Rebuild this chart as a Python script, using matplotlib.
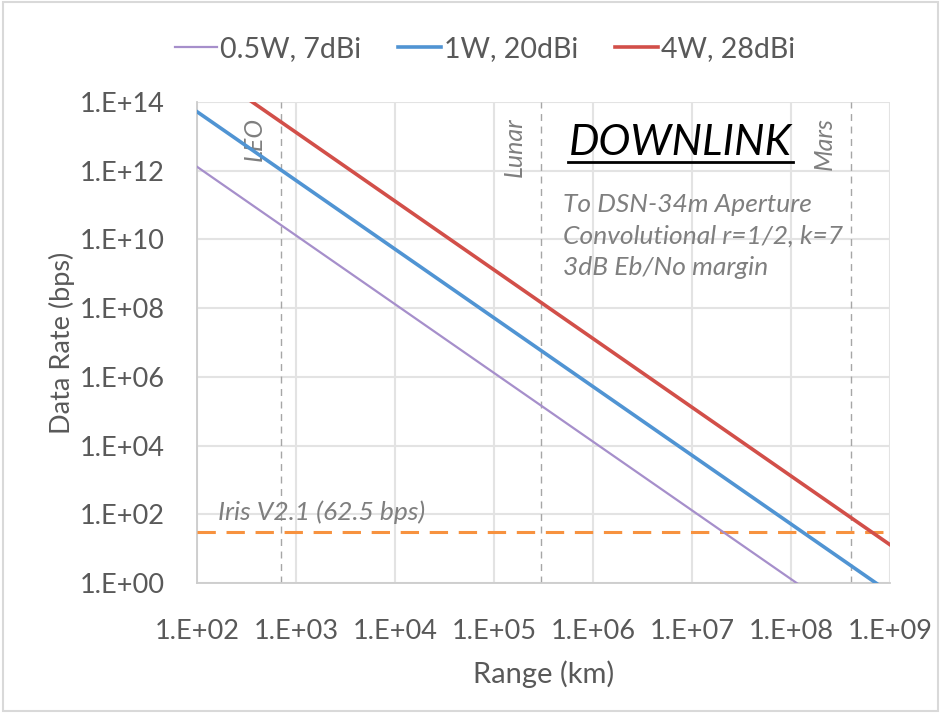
import matplotlib
matplotlib.use("Agg")
import matplotlib.pyplot as plt
from matplotlib.patches import Rectangle
from matplotlib.ticker import FixedLocator, NullLocator

plt.rcParams["font.family"] = ["Lato", "DejaVu Sans"]

# (decade points)
range_km = [1e2, 1e3, 1e4, 1e5, 1e6, 1e7, 1e8, 1e9]
rate_05w = [1.3e12, 1.3e10, 1.3e8, 1.3e6, 1.3e4, 1.3e2, 1.3e0, 1.3e-2]
rate_1w = [5.2e13, 5.2e11, 5.2e9, 5.2e7, 5.2e5, 5.2e3, 5.2e1, 5.2e-1]
rate_4w = [1.3e15, 1.3e13, 1.3e11, 1.3e9, 1.3e7, 1.3e5, 1.3e3, 1.3e1]
series_labels = ["0.5W, 7dBi", "1W, 20dBi", "4W, 28dBi"]

iris_rate = 31.25
iris_label = "Iris V2.1 (62.5 bps)"

marker_names = ["LEO", "Lunar", "Mars"]
marker_ranges = [7e2, 3e5, 4e8]

x_ticks = [1e2, 1e3, 1e4, 1e5, 1e6, 1e7, 1e8, 1e9]
x_ticklabels = ["1.E+02", "1.E+03", "1.E+04", "1.E+05", "1.E+06", "1.E+07", "1.E+08", "1.E+09"]
y_ticks = [1e0, 1e2, 1e4, 1e6, 1e8, 1e10, 1e12, 1e14]
y_ticklabels = ["1.E+00", "1.E+02", "1.E+04", "1.E+06", "1.E+08", "1.E+10", "1.E+12", "1.E+14"]

grey_txt = "#595959"
note_grey = "#7f7f7f"

fig = plt.figure(figsize=(9.41, 7.13), dpi=100)
ax = fig.add_axes([0.2094, 0.1823, 0.7364, 0.6747])

ax.plot(range_km, rate_05w, color="#a68fcb", lw=1.6, label=series_labels[0], zorder=4)
ax.plot(range_km, rate_1w, color="#5094d3", lw=2.6, label=series_labels[1], zorder=4)
ax.plot(range_km, rate_4w, color="#d24f49", lw=2.6, label=series_labels[2], zorder=4)

ax.axhline(iris_rate, color="#f7923f", lw=2.2, dashes=(6, 3.5), zorder=3)

for r in marker_ranges:
    ax.axvline(r, color="#a6a6a6", lw=1.0, dashes=(5, 4), zorder=2)

ax.set_xscale("log")
ax.set_yscale("log")
ax.set_xlim(1e2, 1e9)
ax.set_ylim(1e0, 1e14)

ax.xaxis.set_major_locator(FixedLocator(x_ticks))
ax.yaxis.set_major_locator(FixedLocator(y_ticks))
ax.xaxis.set_minor_locator(NullLocator())
ax.yaxis.set_minor_locator(NullLocator())
ax.set_xticklabels(x_ticklabels)
ax.set_yticklabels(y_ticklabels)
ax.tick_params(axis="both", length=0, labelsize=19.5, labelcolor=grey_txt)
ax.tick_params(axis="x", pad=26)
ax.tick_params(axis="y", pad=23)

ax.grid(True, which="major", color="#e3e3e3", lw=1.5, zorder=0)
ax.set_axisbelow(True)
for side in ["top", "right"]:
    ax.spines[side].set_visible(False)
for side in ["left", "bottom"]:
    ax.spines[side].set_color("#cccccc")
    ax.spines[side].set_linewidth(1.3)

ax.set_xlabel("Range (km)", fontsize=21, color=grey_txt, labelpad=12)
ax.set_ylabel("Data Rate (bps)", fontsize=19.5, color=grey_txt, labelpad=4)

# rotated labels just left of the dashed range markers
for name, r in zip(marker_names, marker_ranges):
    ax.annotate(name, xy=(r, 0.968), xycoords=ax.get_xaxis_transform(),
                xytext=(-11, 0), textcoords="offset points", rotation=90,
                ha="right", va="top", fontsize=18, style="italic", color=note_grey)

ax.text(0.698, 0.89, "DOWNLINK", transform=ax.transAxes, fontsize=31,
        style="italic", color="black", ha="center", va="baseline")
ax.plot([0.535, 0.86], [0.876, 0.876], transform=ax.transAxes,
        color="black", lw=2, clip_on=False)

ax.text(0.528, 0.81, "To DSN-34m Aperture\nConvolutional r=1/2, k=7\n3dB Eb/No margin",
        transform=ax.transAxes, fontsize=19, style="italic", color=note_grey,
        ha="left", va="top", linespacing=1.45)

ax.text(0.03, 70, iris_label, transform=ax.get_yaxis_transform(),
        fontsize=19, style="italic", color=note_grey, ha="left", va="baseline")

fig.legend(loc="upper center", bbox_to_anchor=(0.515, 0.985), ncol=3, frameon=False,
           fontsize=20.5, labelcolor=grey_txt, handlelength=1.5, handletextpad=0.1,
           columnspacing=1.3)

fig.patches.append(Rectangle((0.003, 0.003), 0.994, 0.994, transform=fig.transFigure,
                             fill=False, edgecolor="#d9d9d9", lw=1.5))

fig.savefig("out.png", dpi=100)
